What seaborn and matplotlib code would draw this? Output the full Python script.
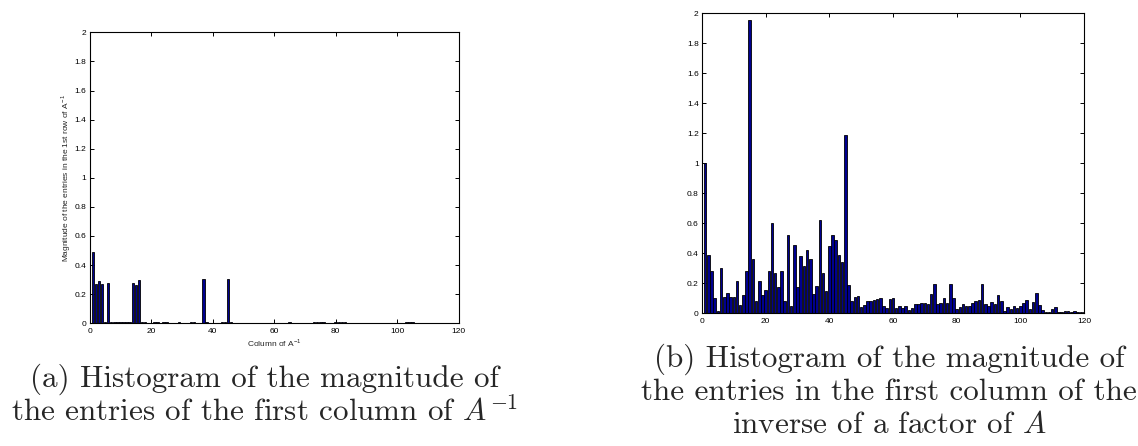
import numpy as np
import pandas as pd
import matplotlib
matplotlib.use("Agg")
import matplotlib.pyplot as plt
import seaborn as sns

# ---------------- data ----------------
columns = list(range(1, 121))

mag_a = [0.49, 0.27, 0.29, 0.27, 0.01, 0.275, 0.006, 0.006, 0.012, 0.01,
         0.006, 0.012, 0.012, 0.275, 0.265, 0.295, 0.01, 0.008, 0.004, 0.002,
         0.012, 0.006, 0.004, 0.01, 0.01, 0.002, 0.001, 0.002, 0.008, 0.002,
         0.004, 0.004, 0.01, 0.006, 0.002, 0.004, 0.305, 0.012, 0.004, 0.004,
         0.004, 0.002, 0.006, 0.012, 0.305, 0.006, 0.003, 0.003, 0.003, 0.003,
         0.004, 0.004, 0.005, 0.003, 0.002, 0.003, 0.003, 0.002, 0.003, 0.003,
         0.002, 0.003, 0.004, 0.005, 0.006, 0.004, 0.003, 0.002, 0.003, 0.002,
         0.003, 0.004, 0.008, 0.007, 0.007, 0.006, 0.004, 0.002, 0.003, 0.006,
         0.007, 0.008, 0.008, 0.004, 0.003, 0.002, 0.003, 0.003, 0.002, 0.003,
         0.002, 0.003, 0.003, 0.002, 0.003, 0.003, 0.002, 0.004, 0.003, 0.002,
         0.003, 0.004, 0.01, 0.008, 0.01, 0.004, 0.003, 0.002, 0.003, 0.002,
         0.003, 0.002, 0.003, 0.002, 0.003, 0.002, 0.002, 0.003, 0.002, 0.002]

mag_b = [1.0, 0.39, 0.28, 0.10, 0.013, 0.30, 0.11, 0.135, 0.108, 0.108,
         0.215, 0.053, 0.125, 0.285, 1.955, 0.36, 0.08, 0.218, 0.125, 0.155,
         0.285, 0.60, 0.27, 0.178, 0.285, 0.08, 0.523, 0.048, 0.458, 0.176,
         0.38, 0.316, 0.42, 0.365, 0.13, 0.18, 0.62, 0.27, 0.15, 0.45,
         0.525, 0.49, 0.39, 0.34, 1.187, 0.187, 0.082, 0.108, 0.115, 0.04,
         0.058, 0.08, 0.082, 0.09, 0.098, 0.105, 0.05, 0.035, 0.095, 0.104,
         0.035, 0.048, 0.033, 0.05, 0.02, 0.035, 0.062, 0.062, 0.072, 0.072,
         0.065, 0.13, 0.193, 0.062, 0.07, 0.10, 0.07, 0.197, 0.104, 0.03,
         0.042, 0.06, 0.052, 0.052, 0.07, 0.08, 0.09, 0.193, 0.064, 0.048,
         0.078, 0.062, 0.125, 0.082, 0.018, 0.04, 0.03, 0.048, 0.033, 0.048,
         0.068, 0.088, 0.027, 0.078, 0.133, 0.058, 0.02, 0.01, 0.012, 0.03,
         0.04, 0.01, 0.01, 0.016, 0.015, 0.008, 0.013, 0.006, 0.01, 0.01]

x_ticks = [0, 20, 40, 60, 80, 100, 120]
y_ticks = [0, 0.2, 0.4, 0.6, 0.8, 1, 1.2, 1.4, 1.6, 1.8, 2]
y_ticklabels = ["0", "0.2", "0.4", "0.6", "0.8", "1", "1.2", "1.4", "1.6", "1.8", "2"]

caption_a_lines = ["(a) Histogram of the magnitude of",
                   "the entries of the first column of $A^{-1}$"]
caption_b_lines = ["(b) Histogram of the magnitude of",
                   "the entries in the first column of the",
                   "inverse of a factor of $A$"]

# ---------------- style ----------------
sns.set_theme(style="white")
plt.rcParams["font.family"] = ["Liberation Sans", "DejaVu Sans"]
plt.rcParams["mathtext.fontset"] = "cm"

bar_color = "#00008F"
W, H = 1138, 446

fig = plt.figure(figsize=(W / 100, H / 100), dpi=100)
ax_a = fig.add_axes([89.7 / W, 1 - 323.3 / H, 369 / W, 291 / H])
ax_b = fig.add_axes([702 / W, 1 - 313.3 / H, 382 / W, 300 / H])


def draw(ax, values):
    df = pd.DataFrame({"col": columns, "mag": values})
    sns.barplot(data=df, x="col", y="mag", native_scale=True, width=0.8,
                color=bar_color, saturation=1, edgecolor="black",
                linewidth=0.6, ax=ax, errorbar=None)
    ax.set_xlim(0, 120)
    ax.set_ylim(0, 2)
    ax.set_xticks(x_ticks)
    ax.set_xticklabels([str(t) for t in x_ticks])
    ax.set_yticks(y_ticks)
    ax.set_yticklabels(y_ticklabels)
    ax.tick_params(axis="both", which="both", direction="in", length=3,
                   width=0.7, labelsize=6, colors="black",
                   top=True, right=True, bottom=True, left=True)
    ax.tick_params(axis="x", pad=3.5)
    ax.tick_params(axis="y", pad=2.4)
    for s in ax.spines.values():
        s.set_visible(True)
        s.set_color("black")
        s.set_linewidth(0.8)
    ax.set_xlabel("")
    ax.set_ylabel("")


draw(ax_a, mag_a)
draw(ax_b, mag_b)

ax_a.set_xlabel(r"Column of A$^{\mathregular{-1}}$", fontsize=6, labelpad=1.5)
ax_a.set_ylabel(r"Magnitude of the entries in the 1st row of A$^{\mathregular{-1}}$",
                fontsize=6, labelpad=1.5)

cap_size = 22.4
for text, ybase in zip(caption_a_lines, [386.7, 421.7]):
    fig.text(265 / W, 1 - ybase / H, text, ha="center", va="baseline",
             fontsize=cap_size, family="cmr10")
for text, ybase in zip(caption_b_lines, [366.7, 400.0, 433.3]):
    fig.text(889 / W, 1 - ybase / H, text, ha="center", va="baseline",
             fontsize=cap_size, family="cmr10")

fig.savefig("out.png", dpi=100)
